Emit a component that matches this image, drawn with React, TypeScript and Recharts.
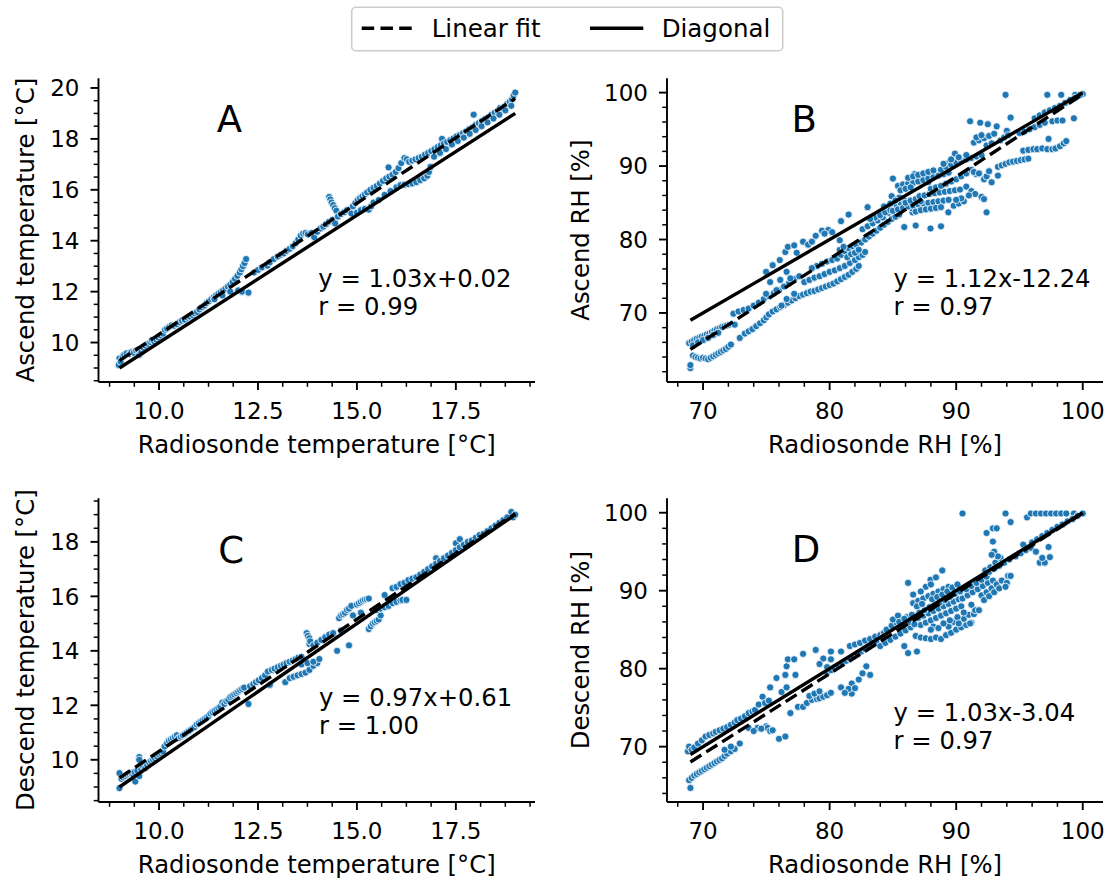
import React from 'react';
import { ScatterChart, Scatter, XAxis, YAxis } from 'recharts';

type Pt = [number, number];

const FONT = '"DejaVu Sans", "Liberation Sans", sans-serif';
const BLUE = '#1f77b4';
const W = 1115;
const H = 879;

// ---------------- data ----------------
// Panel A: radiosonde temperature (x) vs ascend temperature (y)
const ascendTempPts: Pt[] = [
  [8.98,9.12],[9.0,9.38],[9.03,9.25],[9.08,9.45],[9.12,9.52],[9.18,9.58],[9.25,9.55],[9.3,9.62],[9.36,9.6],[9.42,9.68],[9.47,9.72],[9.5,9.52],[9.55,9.62],[9.6,9.8],[9.66,9.88],[9.72,9.95],[9.78,10.02],[9.82,10.1],[9.88,10.05],[9.93,10.12],[9.98,10.2],[10.04,10.28],[10.1,10.35],[10.15,10.5],[10.2,10.55],[10.26,10.62],[10.32,10.68],[10.38,10.66],[10.45,10.72],[10.52,10.8],[10.58,10.86],[10.65,10.9],[10.72,10.98],[10.78,11.02],[10.85,11.08],[10.9,11.15],[10.96,11.2],[11.02,11.3],[11.08,11.38],[11.14,11.45],[11.2,11.55],[11.26,11.62],[11.32,11.7],[11.38,11.78],[11.44,11.85],[11.5,11.92],[11.56,11.98],[11.62,12.05],[11.68,12.12],[11.74,12.2],[11.8,12.28],[11.86,12.38],[11.92,12.5],[11.98,12.62],[12.04,12.75],[12.08,12.88],[12.12,13.0],[12.16,13.12],[12.2,13.28],
  [11.4,11.7],[11.6,11.85],[11.8,12.0],[12.0,12.05],[12.1,12.0],[12.26,11.96],
  [12.4,12.75],[12.5,12.85],[12.6,12.95],[12.74,13.02],[12.8,13.15],[12.9,13.28],[13.0,13.38],[13.08,13.45],[13.15,13.5],[13.22,13.6],[13.3,13.68],[13.38,13.78],[13.45,13.9],[13.52,14.05],[13.58,14.2],[13.64,14.28],[13.7,14.3],[13.76,14.25],[13.85,14.3],[13.92,14.14],[14.0,14.35],[14.08,14.48],[14.15,14.55],[14.22,14.65],
  [14.3,15.72],[14.33,15.62],[14.36,15.5],[14.4,15.4],[14.44,15.28],[14.48,15.18],
  [14.3,14.75],[14.38,14.82],[14.45,14.68],[14.52,14.95],[14.6,15.05],[14.68,15.12],[14.75,15.2],[14.86,15.07],[14.9,15.35],[14.96,15.48],[15.02,15.6],[15.08,15.68],[15.14,15.75],[15.2,15.82],[15.26,15.9],
  [15.0,15.1],[15.1,15.2],[15.2,15.25],[15.3,15.22],[15.36,15.35],[15.42,15.5],
  [15.34,16.0],[15.42,16.08],[15.5,16.15],[15.58,16.25],[15.66,16.35],[15.74,16.45],[15.8,16.88],[15.82,16.52],[15.9,16.6],[15.98,16.7],[16.05,16.85],[16.12,17.05],[16.2,17.25],[16.26,17.2],[16.32,17.1],
  [15.55,15.6],[15.7,15.8],[15.85,15.95],[16.0,16.1],[16.1,16.18],[16.2,16.2],[16.3,16.22],[16.4,16.25],[16.5,16.3],[16.6,16.38],[16.7,16.45],[16.78,16.55],[16.82,16.7],[16.86,16.9],
  [16.4,17.15],[16.48,17.2],[16.56,17.25],[16.64,17.3],[16.72,17.38],[16.8,17.45],[16.88,17.52],[16.96,17.6],[17.04,17.68],[17.12,17.75],[17.15,18.0],[17.2,17.82],[17.28,17.88],[17.36,17.95],[17.44,18.02],[17.52,18.1],[17.6,18.15],[17.68,18.22],[17.76,18.3],[17.84,18.38],[17.92,18.45],[17.95,18.95],[18.0,18.55],[18.08,18.62],[18.16,18.7],[18.24,18.78],[18.32,18.85],[18.4,18.95],[18.48,19.02],[18.56,19.1],[18.62,19.22],[18.68,19.2],[18.74,19.28],[18.8,19.38],[18.86,19.45],[18.92,19.55],[18.96,19.7],[19.0,19.82],
  [16.95,17.3],[17.1,17.45],[17.25,17.6],[17.4,17.78],[17.55,17.92],[17.7,18.05],[17.85,18.2],[18.0,18.35],[18.15,18.5],[18.3,18.65],[18.45,18.8],[18.6,18.95],[18.75,19.12],[18.9,19.3],
];

// Panel B: radiosonde RH (x) vs ascend RH (y)
const ascendRhPts: Pt[] = [
  [69.0,62.5],[69.0,62.9],
  [68.9,65.9],[69.1,66.1],[69.3,66.3],[69.5,66.5],[69.7,66.6],[69.9,66.8],[70.1,66.9],[70.3,67.1],[70.5,67.2],[70.7,67.4],[70.9,67.6],[71.1,67.8],[71.3,67.9],[71.5,68.1],[71.7,68.2],[71.9,68.3],[72.1,68.4],[72.3,68.5],[72.5,68.4],[69.2,65.6],[69.6,66.0],[70.0,66.3],[70.4,66.6],[70.8,67.0],[71.2,67.3],
  [69.2,64.2],[69.4,64.0],[69.6,63.9],[69.8,63.8],[70.0,63.9],[70.2,63.8],[70.4,63.7],[70.6,63.9],[70.8,64.1],[71.0,64.3],[71.2,64.5],[71.4,64.7],[71.6,64.9],[71.8,65.1],[72.0,65.4],[72.2,65.7],[72.9,66.6],[73.3,67.2],[73.6,67.5],[73.9,67.8],[74.2,68.2],[74.5,68.6],[74.8,69.0],[75.0,69.4],[75.2,69.8],[75.5,70.2],[75.8,70.5],[76.1,70.8],[76.4,71.1],[76.7,71.4],[77.0,71.7],[77.3,72.0],[77.6,72.3],[77.9,72.5],[78.2,72.7],[78.5,72.9],[78.8,73.0],[79.1,73.2],[79.4,73.4],[79.7,73.6],[80.0,73.8],[80.3,74.0],[80.6,74.3],[80.9,74.6],[81.2,74.9],[81.5,75.2],[81.8,75.6],[82.1,76.0],[82.3,76.4],
  [78.0,74.2],[78.4,74.5],[78.8,74.8],[79.2,75.0],[79.6,75.3],[80.0,75.6],[80.4,75.8],[80.8,76.1],[81.2,76.4],[81.6,76.8],[82.0,77.2],[82.3,77.6],
  [79.0,76.4],[79.4,76.7],[79.8,77.0],[80.2,77.2],[78.6,76.1],[82.6,77.9],[82.8,78.3],
  [72.4,69.9],[72.8,70.2],[73.2,70.4],[73.6,70.6],[74.0,71.0],[74.4,71.4],[74.8,71.9],[75.2,72.3],[75.6,72.7],[76.0,73.1],[76.4,73.6],[76.8,74.1],[77.2,74.6],[77.6,75.0],
  [74.98,75.6],[75.5,76.5],[76.06,77.2],[76.5,78.3],[76.7,79.0],[77.2,79.2],[77.9,79.7],[77.4,78.2],[76.6,75.6],[74.98,72.6],[75.8,73.1],[77.2,72.6],[76.6,71.9],[76.2,71.0],[75.3,74.2],[76.1,74.5],[76.9,74.7],
  [78.9,80.5],[79.4,81.2],[79.9,81.3],[80.8,79.9],[80.9,82.5],[81.5,83.4],[83.0,84.4],[79.6,80.8],[80.2,81.0],[78.3,79.3],[78.6,79.7],
  [80.6,77.4],[80.9,77.9],[81.2,78.4],[81.5,78.8],[81.8,79.1],[82.1,79.3],[80.8,78.6],[81.1,79.0],[81.4,77.6],[81.7,78.0],[82.0,78.2],[82.3,78.6],
  [82.5,79.6],[82.8,80.0],[83.1,80.4],[83.4,80.8],[83.7,81.2],[84.0,81.6],[84.3,82.0],[84.6,82.4],[84.9,82.8],[85.2,83.1],[85.5,83.4],
  [82.6,81.4],[83.0,81.8],[83.4,82.2],[83.8,82.6],[84.2,83.0],[84.6,83.6],[85.0,84.2],[85.3,84.6],[85.6,85.0],[85.9,85.3],
  [83.6,83.0],[84.0,83.3],[84.4,83.7],[84.8,84.0],[83.2,82.8],
  [84.9,85.9],[85.0,88.3],[85.9,81.7],[86.8,81.9],[87.97,81.5],[88.8,81.8],[86.7,88.9],[87.8,87.8],[86.55,83.7],[86.55,84.2],[89.38,83.7],[89.9,91.7],[89.4,90.4],[84.3,84.5],[85.5,85.7],[84.8,84.9],[85.2,85.3],
  [85.0,83.9],[85.4,84.1],[85.8,84.3],[86.2,84.5],[86.6,84.6],[87.0,84.8],[87.4,84.9],[87.8,85.0],[88.2,85.1],[88.6,85.2],[89.0,85.3],[89.4,85.4],
  [86.8,83.8],[87.2,84.0],[87.6,84.1],[88.0,84.2],[88.4,84.3],[88.8,84.4],
  [86.0,85.0],[86.4,85.3],[86.8,85.5],[87.2,85.2],[89.8,84.6],[90.2,84.9],[90.6,85.2],
  [85.4,87.3],[85.8,87.5],[86.2,87.6],[86.6,87.7],[87.0,87.9],[87.4,88.1],[87.8,88.3],[88.2,88.5],[88.6,88.7],[89.0,88.9],[89.4,89.1],[85.6,86.7],[86.0,86.9],[86.4,87.1],
  [86.2,88.4],[86.6,88.6],[87.0,88.8],[87.4,89.0],[87.8,89.2],[88.2,89.4],
  [87.1,85.9],[87.5,86.0],[87.9,86.2],[88.3,86.3],[88.7,86.4],[89.1,86.5],[89.5,86.6],[89.9,86.7],[90.3,86.8],
  [88.0,86.9],[88.4,87.1],[88.8,87.3],[89.2,87.6],[89.6,87.9],[90.0,88.2],[90.4,88.6],[90.8,89.0],[91.2,89.5],
  [88.8,89.5],[89.2,89.9],[89.6,90.2],[90.0,90.5],[90.4,90.7],[90.8,90.9],[91.2,91.1],[91.6,91.3],[92.0,91.5],[89.0,90.3],[89.6,90.9],[90.2,91.2],[90.8,91.5],
  [90.8,87.2],[91.2,86.6],[91.5,86.2],[92.0,85.8],[92.2,85.5],[92.4,83.7],[90.4,85.6],[90.0,85.4],[91.0,86.0],
  [91.1,96.1],[91.9,95.9],[92.5,95.7],
  [91.4,93.2],[91.8,93.5],[92.2,93.8],[92.6,94.1],[93.0,94.4],[91.6,93.9],[92.0,94.2],[92.4,92.8],[92.8,93.1],
  [91.6,88.9],[92.2,88.2],[92.8,87.8],[93.3,88.7],[93.9,99.7],[91.4,89.2],[91.8,89.0],[92.4,88.6],[92.6,89.3],
  [93.2,95.4],[94.0,94.8],[94.3,96.6],[93.5,93.5],[93.8,93.9],[94.1,94.2],
  [93.3,89.9],[93.6,90.1],[93.9,90.3],[94.2,90.5],[94.5,90.6],[94.8,90.7],[95.1,90.8],[95.4,90.9],[95.7,91.0],
  [95.3,92.1],[95.7,92.2],[96.1,92.3],[96.4,92.3],[96.8,92.4],[97.2,92.3],[97.6,92.3],[97.85,92.4],[98.2,92.7],[98.5,93.1],[98.7,93.4],
  [95.0,94.5],[95.4,94.7],[95.8,95.0],[96.2,95.3],[96.6,95.6],[97.0,95.9],[97.3,93.7],[97.6,96.1],[98.0,96.2],[98.4,96.2],[99.3,96.5],
  [97.2,99.7],[98.3,99.7],[99.4,99.7],[100.0,99.8],
  [96.2,96.5],[96.6,96.9],[97.0,97.3],[97.4,97.6],[97.8,97.9],[98.2,98.2],[98.6,98.6],[99.0,99.0],[99.4,99.3],[99.8,99.7],
];

// Panel C: radiosonde temperature (x) vs descend temperature (y)
const descendTempPts: Pt[] = [
  [9.0,8.96],[9.0,9.51],[9.05,9.3],[9.1,9.35],[9.15,9.4],[9.2,9.45],[9.25,9.48],[9.3,9.5],[9.35,9.45],[9.4,9.2],[9.38,9.55],[9.45,9.6],[9.5,10.1],[9.5,10.0],[9.5,9.4],[9.55,9.65],[9.6,9.75],[9.65,9.7],[9.7,9.8],[9.75,9.9],[9.8,9.95],[9.85,10.0],[9.9,10.05],[9.95,10.12],[10.0,10.2],[10.05,10.25],[10.1,10.3],[10.14,10.49],[10.2,10.6],[10.25,10.7],[10.3,10.75],[10.35,10.8],[10.4,10.85],[10.45,10.9],[10.5,10.8],[10.55,10.85],[10.6,10.9],[10.65,10.95],[10.7,11.0],[10.75,11.05],[10.8,11.1],[10.85,11.15],[10.9,11.2],[10.95,11.3],[11.0,11.35],[11.05,11.4],[11.1,11.45],[11.15,11.5],[11.2,11.55],[11.25,11.6],[11.3,11.7],[11.35,11.75],[11.4,11.8],[11.45,11.85],[11.5,11.9],[11.55,11.95],[11.6,12.1],[11.65,12.05],[11.7,12.15],[11.75,12.2],[11.8,12.3],[11.85,12.35],[11.9,12.4],[11.95,12.45],[12.0,12.5],[12.05,12.55],[12.1,12.6],[12.15,12.65],[12.26,12.05],
  [12.3,12.7],[12.38,12.78],[12.45,12.85],[12.52,12.92],[12.6,13.0],[12.68,13.1],[12.75,13.24],[12.8,12.75],[12.85,13.3],[12.92,13.35],[13.0,13.4],[13.08,13.45],[13.15,13.5],[13.19,12.85],[13.22,13.55],[13.3,13.6],[13.38,13.65],[13.45,13.7],[13.52,13.75],[13.6,13.78],
  [13.3,13.0],[13.4,13.05],[13.5,13.1],[13.6,13.15],[13.7,13.2],[13.8,13.3],[13.9,13.45],[14.0,13.55],[13.6,13.5],[13.75,13.55],[13.9,13.6],[14.05,13.7],
  [13.73,14.65],[13.76,14.55],[13.8,14.46],[13.8,14.25],[13.82,14.35],[13.9,14.2],[14.0,14.3],[14.1,14.4],[14.2,14.5],[14.3,14.6],[14.4,14.65],[14.5,14.0],[14.8,14.2],[14.6,14.75],
  [14.55,15.2],[14.6,15.3],[14.65,15.35],[14.7,15.4],[14.75,15.5],[14.8,15.55],[14.86,15.65],[14.9,15.3],[15.0,15.7],[15.05,15.75],[15.1,15.8],[15.15,15.85],[15.2,15.88],[15.25,15.9],[15.3,15.92],[15.1,15.4],
  [15.3,14.8],[15.35,14.9],[15.4,15.0],[15.45,15.05],[15.5,15.1],[15.55,15.15],[15.6,15.3],[15.5,15.5],[15.6,15.55],[15.7,15.6],[15.8,15.65],[15.7,16.05],[15.9,15.75],[16.0,15.8],[16.1,15.85],[16.15,15.87],[16.25,15.87],
  [15.9,16.3],[16.0,16.35],[16.1,16.45],[16.2,16.5],[16.3,16.6],[16.4,16.65],[16.5,16.7],[16.6,16.8],[16.7,16.9],[16.8,17.0],[16.9,17.1],[17.0,17.4],[17.0,17.2],[17.1,17.3],[17.2,17.4],[17.3,17.5],[17.4,17.6],[17.5,17.95],[17.5,17.7],[17.6,18.1],[17.6,17.8],[17.7,17.9],[17.8,18.0],[17.9,18.05],[18.0,18.15],[18.1,18.25],[18.2,18.3],[18.3,18.4],[18.4,18.5],[18.5,18.6],[18.6,18.7],[18.7,18.8],[18.8,18.9],[18.9,19.1],[18.95,18.9],[19.0,19.0],
];

// Panel D: radiosonde RH (x) vs descend RH (y)
const descendRhPts: Pt[] = [
  [69.0,64.7],[68.9,65.7],[69.1,66.0],[69.3,66.3],[69.5,66.5],[69.7,66.7],[69.9,66.9],[70.1,67.1],[70.3,67.3],[70.5,67.5],[70.7,67.7],[70.9,67.9],[71.1,68.1],[71.3,68.3],[71.5,68.5],[71.7,68.8],[71.9,69.1],[72.2,69.4],[72.5,69.7],[72.9,70.4],[71.7,69.6],[72.2,70.0],
  [68.8,69.4],[68.9,70.0],[69.1,69.6],[69.3,69.9],[69.6,70.4],[69.9,70.8],[70.2,71.3],[70.5,71.5],[70.8,71.7],[71.0,71.9],[71.3,72.1],[71.6,72.3],[71.9,72.5],[72.2,72.8],[72.5,73.1],[72.7,73.4],[73.0,73.6],[73.3,73.9],[73.6,74.3],[73.9,74.5],[74.1,74.7],[74.4,75.4],[74.7,76.4],[74.9,75.6],[75.2,75.9],
  [73.6,72.4],[74.3,72.4],[74.98,72.6],[75.1,72.4],[75.3,72.0],[75.5,72.1],[76.0,71.0],[76.5,71.3],[74.0,72.0],[74.6,72.3],
  [75.3,77.6],[75.8,78.8],[76.6,80.3],[76.7,81.2],[77.2,81.2],[77.3,79.2],[76.5,79.2],[76.9,74.3],[77.5,75.1],[77.9,75.1],[77.9,81.9],[76.2,77.0],[76.6,77.6],
  [78.2,75.6],[78.6,76.0],[79.0,76.1],[79.2,76.2],[79.5,76.4],[79.8,76.6],[80.1,76.9],[78.4,76.5],[78.8,76.8],[79.2,77.1],
  [78.9,82.4],[80.1,82.2],[79.5,81.3],[80.1,81.2],[80.9,82.2],[79.2,80.6],[79.8,80.2],
  [80.9,77.6],[81.3,77.0],[81.75,78.1],[81.75,76.8],[81.5,77.4],[82.0,77.5],[81.2,76.9],
  [79.8,79.5],[80.1,79.8],[80.4,80.1],[80.7,80.4],[81.0,80.7],[81.3,81.0],[81.6,81.3],[81.9,81.6],[82.2,81.9],[82.5,82.2],[82.8,82.5],[83.1,82.8],[83.4,83.1],[83.7,83.4],
  [81.6,82.9],[82.0,83.1],[82.4,83.3],[82.8,83.6],[83.2,83.8],[83.6,84.1],[84.0,84.3],[84.3,84.6],
  [82.6,79.4],[82.9,80.3],[83.2,79.2],[82.3,78.6],
  [84.0,82.9],[84.4,83.3],[84.8,83.7],[85.2,84.1],[85.6,84.5],[86.0,84.9],[86.4,85.3],[84.5,85.0],[84.9,85.5],[85.3,85.9],[85.7,86.2],[86.1,86.6],[86.5,86.9],[84.2,84.0],[85.0,86.3],[85.4,86.8],
  [86.2,91.0],[86.6,89.5],[86.2,82.0],[86.9,82.2],[85.9,82.9],
  [86.6,88.4],[87.0,88.7],[87.4,89.0],[87.8,89.3],[88.2,89.6],[88.6,89.9],[89.0,90.2],[89.4,90.5],[87.97,91.4],[88.9,92.6],[88.4,91.7],[87.6,90.5],[88.0,90.8],[87.2,89.9],
  [86.8,84.2],[87.2,84.0],[87.6,83.9],[88.0,83.8],[88.4,84.0],[88.8,83.8],[89.2,84.3],[89.6,84.6],[90.0,85.0],[90.4,85.3],[90.8,85.6],[91.2,85.9],[88.2,85.4],[89.4,85.4],
  [87.0,86.5],[87.4,86.8],[87.8,87.1],[88.2,87.4],[88.6,87.7],[89.0,88.0],[89.4,88.3],[89.8,88.6],[90.2,88.9],[87.2,85.6],[87.6,85.9],[88.0,86.2],[88.4,86.5],[88.8,86.8],[89.2,87.1],[89.6,87.4],[90.0,87.7],[90.4,88.0],
  [85.5,86.0],[85.9,86.4],[86.3,86.0],[86.7,85.7],[87.1,87.2],[87.5,87.5],[87.9,87.9],[88.3,88.2],[88.7,88.5],[89.1,88.8],[89.5,89.2],[89.9,89.6],[90.3,89.9],[86.9,88.0],[87.3,88.3],[88.1,88.9],[88.5,89.2],[88.9,89.5],[89.3,89.9],[89.7,90.4],[90.1,90.8],
  [88.0,85.0],[88.6,85.2],[89.0,85.8],[89.8,86.0],[90.6,86.4],[91.0,86.9],[91.4,87.0],[89.5,86.2],[90.1,86.6],
  [90.2,85.8],[91.1,85.8],[91.5,87.5],[91.8,87.5],[90.6,87.2],[91.2,88.2],
  [90.5,89.0],[90.9,89.4],[91.3,89.8],[91.7,90.2],[92.1,90.6],[92.5,91.0],[92.9,91.3],[90.8,90.2],[91.2,90.6],[91.6,91.0],[92.0,91.4],[92.4,91.8],
  [92.0,89.4],[92.4,89.8],[92.8,90.3],[93.2,90.8],[93.6,91.3],[92.3,92.6],[92.7,93.0],[93.1,93.6],[93.5,94.2],[93.0,95.0],
  [92.4,97.4],[92.9,98.0],[93.2,98.0],[92.9,96.3],[93.3,94.4],[92.8,94.6],[93.9,99.9],[90.5,99.9],[94.3,98.8],
  [94.1,91.9],[94.3,91.9],[94.0,91.0],[92.2,88.8],[92.6,89.3],[93.0,89.8],[93.4,90.3],[93.9,90.5],
  [92.6,92.4],[93.0,92.8],[93.4,93.2],[93.8,93.6],[94.2,94.0],[94.6,94.4],[95.0,94.8],
  [95.3,95.9],[94.7,94.4],[95.1,94.8],[95.5,95.2],[95.9,95.5],[96.3,95.0],[96.6,93.6],[97.0,93.6],[97.3,95.6],[97.4,94.3],[96.8,94.2],
  [95.6,99.4],[95.9,99.9],[96.3,99.9],[96.7,99.9],[97.1,99.9],[97.5,99.9],[97.9,99.9],[98.3,99.9],[98.7,99.9],[99.3,99.9],[100.0,99.9],
  [96.0,96.2],[96.4,96.6],[96.8,97.0],[97.2,97.4],[97.6,97.8],[98.0,98.2],[98.4,98.5],[98.8,98.9],[99.2,99.2],[99.6,99.6],
];

// Linear-fit coefficients and correlation per panel (A, B, C, D)
const fitSlopes = [1.03, 1.12, 0.97, 1.03];
const fitIntercepts = [0.02, -12.24, 0.61, -3.04];
const corrValues = ['0.99', '0.97', '1.00', '0.97'];
const tempSpan: [number, number] = [9, 19];
const rhSpan: [number, number] = [69, 100];

// Tick values
const tempXMajor = [10, 12.5, 15, 17.5];
const tempXMinor = [8.75, 9.375, 10.625, 11.25, 11.875, 13.125, 13.75, 14.375, 15.625, 16.25, 16.875, 18.125, 18.75, 19.375];
const ascTempYMajor = [10, 12, 14, 16, 18, 20];
const descTempYMajor = [10, 12, 14, 16, 18];
const tempYMinor = [8.5, 9, 9.5, 10.5, 11, 11.5, 12.5, 13, 13.5, 14.5, 15, 15.5, 16.5, 17, 17.5, 18.5, 19, 19.5];
const rhMajor = [70, 80, 90, 100];
const rhXMinor = [68, 72, 74, 76, 78, 82, 84, 86, 88, 92, 94, 96, 98];
const ascRhYMinor = [62, 64, 66, 68, 72, 74, 76, 78, 82, 84, 86, 88, 92, 94, 96, 98];
const descRhYMinor = [64, 66, 68, 72, 74, 76, 78, 82, 84, 86, 88, 92, 94, 96, 98];

const xLabelTemp = 'Radiosonde temperature [\u00B0C]';
const xLabelRh = 'Radiosonde RH [%]';

// ---------------- layout ----------------
interface PanelDef {
  pts: Pt[];
  idx: number;
  span: [number, number];
  xDomain: [number, number];
  yDomain: [number, number];
  xMajor: number[];
  xMinor: number[];
  yMajor: number[];
  yMinor: number[];
  xDigits: number;
  plot: { left: number; top: number; right: number; bottom: number };
  xLabel: string;
  yLabel: string;
  yLabelX: number;
  letter: string;
  letterX: number;
  letterY: number;
  eqX: number;
  eqY: number;
  rY: number;
}

const panels: PanelDef[] = [
  {
    pts: ascendTempPts, idx: 0, span: tempSpan,
    xDomain: [8.47, 19.5], yDomain: [8.45, 20.38],
    xMajor: tempXMajor, xMinor: tempXMinor, yMajor: ascTempYMajor, yMinor: tempYMinor, xDigits: 1,
    plot: { left: 98.5, top: 78.3, right: 535, bottom: 382 },
    xLabel: xLabelTemp, yLabel: 'Ascend temperature [\u00B0C]', yLabelX: 34,
    letter: 'A', letterX: 229.5, letterY: 132.3, eqX: 318.3, eqY: 286.7, rY: 315,
  },
  {
    pts: ascendRhPts, idx: 1, span: rhSpan,
    xDomain: [67.15, 101.6], yDomain: [60.6, 101.95],
    xMajor: rhMajor, xMinor: rhXMinor, yMajor: rhMajor, yMinor: ascRhYMinor, xDigits: 0,
    plot: { left: 667, top: 78.3, right: 1103, bottom: 382 },
    xLabel: xLabelRh, yLabel: 'Ascend RH [%]', yLabelX: 589,
    letter: 'B', letterX: 804.3, letterY: 132, eqX: 893.6, eqY: 286.7, rY: 314.5,
  },
  {
    pts: descendTempPts, idx: 2, span: tempSpan,
    xDomain: [8.47, 19.5], yDomain: [8.45, 19.6],
    xMajor: tempXMajor, xMinor: tempXMinor, yMajor: descTempYMajor, yMinor: tempYMinor, xDigits: 1,
    plot: { left: 98.5, top: 498.3, right: 535, bottom: 802 },
    xLabel: xLabelTemp, yLabel: 'Descend temperature [\u00B0C]', yLabelX: 34,
    letter: 'C', letterX: 231.2, letterY: 562.5, eqX: 319, eqY: 705.5, rY: 733.5,
  },
  {
    pts: descendRhPts, idx: 3, span: rhSpan,
    xDomain: [67.15, 101.6], yDomain: [62.9, 101.85],
    xMajor: rhMajor, xMinor: rhXMinor, yMajor: rhMajor, yMinor: descRhYMinor, xDigits: 0,
    plot: { left: 667, top: 498.3, right: 1103, bottom: 802 },
    xLabel: xLabelRh, yLabel: 'Descend RH [%]', yLabelX: 589,
    letter: 'D', letterX: 806, letterY: 562, eqX: 893.6, eqY: 721, rY: 749,
  },
];

const isMajor = (list: number[], v: number) => list.some((m) => Math.abs(m - v) < 1e-6);

const makeXTick = (majors: number[], digits: number) => (props: any) => {
  const { x, y, payload } = props;
  const v = payload.value as number;
  const major = isMajor(majors, v);
  return (
    <g key={`xt-${v}`}>
      <line x1={x} x2={x} y1={y} y2={y + (major ? 8 : 4.8)} stroke="#000" strokeWidth={major ? 1.9 : 1.5} />
      {major && (
        <text x={x} y={y + 36.6} textAnchor="middle" fontSize={23} fontFamily={FONT} fill="#000">
          {v.toFixed(digits)}
        </text>
      )}
    </g>
  );
};

const makeYTick = (majors: number[]) => (props: any) => {
  const { x, y, payload } = props;
  const v = payload.value as number;
  const major = isMajor(majors, v);
  return (
    <g key={`yt-${v}`}>
      <line x1={x - (major ? 8 : 4.8)} x2={x} y1={y} y2={y} stroke="#000" strokeWidth={major ? 1.9 : 1.5} />
      {major && (
        <text x={x - 19} y={y + 8.4} textAnchor="end" fontSize={23} fontFamily={FONT} fill="#000">
          {String(v)}
        </text>
      )}
    </g>
  );
};

const dotShape = (p: any) => (
  <circle cx={p.cx} cy={p.cy} r={3.6} fill={BLUE} stroke="#ffffff" strokeWidth={0.8} />
);
const noShape = () => <g />;

const LINE_W = 3.4;

function Panel({ d }: { d: PanelDef }) {
  const yw = 90;
  const xh = 60;
  const margin = {
    top: d.plot.top,
    left: d.plot.left - yw,
    right: W - d.plot.right,
    bottom: H - d.plot.bottom - xh,
  };
  const slope = fitSlopes[d.idx];
  const icpt = fitIntercepts[d.idx];
  const pts = d.pts.map(([x, y]) => ({ x, y }));
  const fit = d.span.map((x) => ({ x, y: slope * x + icpt }));
  const diag = d.span.map((x) => ({ x, y: x }));
  const xTicks = [...d.xMajor, ...d.xMinor].sort((a, b) => a - b);
  const yTicks = [...d.yMajor, ...d.yMinor].sort((a, b) => a - b);
  const cx = (d.plot.left + d.plot.right) / 2;
  const cy = (d.plot.top + d.plot.bottom) / 2;
  const eq = `y = ${slope.toFixed(2)}x${icpt >= 0 ? '+' : '-'}${Math.abs(icpt).toFixed(2)}`;
  const txt = { fontFamily: FONT, fill: '#000' } as const;
  return (
    <div style={{ position: 'absolute', left: 0, top: 0 }}>
      <ScatterChart width={W} height={H} margin={margin}>
        <XAxis
          type="number"
          dataKey="x"
          domain={d.xDomain}
          allowDataOverflow
          ticks={xTicks}
          interval={0}
          height={xh}
          tickSize={0}
          tickMargin={0}
          tickLine={false}
          axisLine={{ stroke: '#000', strokeWidth: 1.9 }}
          tick={makeXTick(d.xMajor, d.xDigits)}
        />
        <YAxis
          type="number"
          dataKey="y"
          domain={d.yDomain}
          allowDataOverflow
          ticks={yTicks}
          interval={0}
          width={yw}
          tickSize={0}
          tickMargin={0}
          tickLine={false}
          axisLine={{ stroke: '#000', strokeWidth: 1.9 }}
          tick={makeYTick(d.yMajor)}
        />
        <Scatter data={pts} isAnimationActive={false} shape={dotShape} legendType="none" />
        <Scatter
          data={fit}
          isAnimationActive={false}
          shape={noShape}
          legendType="none"
          line={{ stroke: '#000', strokeWidth: LINE_W, strokeDasharray: '13 5.8', fill: 'none' }}
        />
        <Scatter
          data={diag}
          isAnimationActive={false}
          shape={noShape}
          legendType="none"
          line={{ stroke: '#000', strokeWidth: LINE_W, fill: 'none' }}
        />
        <text x={d.letterX} y={d.letterY} textAnchor="middle" fontSize={37} {...txt}>{d.letter}</text>
        <text x={d.eqX} y={d.eqY} fontSize={24.3} {...txt}>{eq}</text>
        <text x={d.eqX} y={d.rY} fontSize={24.3} {...txt}>{`r = ${corrValues[d.idx]}`}</text>
        <text x={cx} y={d.plot.bottom + 71} textAnchor="middle" fontSize={24.3} {...txt}>{d.xLabel}</text>
        <text
          x={d.yLabelX}
          y={cy}
          textAnchor="middle"
          fontSize={24.3}
          transform={`rotate(-90 ${d.yLabelX} ${cy})`}
          {...txt}
        >
          {d.yLabel}
        </text>
      </ScatterChart>
    </div>
  );
}

function LegendBox() {
  return (
    <svg width={W} height={60} style={{ position: 'absolute', left: 0, top: 0 }}>
      <rect x={351.7} y={7.3} width={431} height={43.4} rx={4} fill="#ffffff" stroke="#cccccc" strokeWidth={1.6} />
      <line x1={361.7} x2={411.7} y1={28.3} y2={28.3} stroke="#000" strokeWidth={LINE_W} strokeDasharray="12.5 6.25" />
      <text x={431.7} y={36.7} fontSize={24.5} fontFamily={FONT} fill="#000">Linear fit</text>
      <line x1={590} x2={643.3} y1={28.3} y2={28.3} stroke="#000" strokeWidth={LINE_W} />
      <text x={661.7} y={36.7} fontSize={24.5} fontFamily={FONT} fill="#000">Diagonal</text>
    </svg>
  );
}

export default function App() {
  return (
    <div style={{ position: 'absolute', left: 0, top: 0, width: W, height: H, background: '#ffffff' }}>
      {panels.map((d) => (
        <Panel key={d.letter} d={d} />
      ))}
      <LegendBox />
    </div>
  );
}
